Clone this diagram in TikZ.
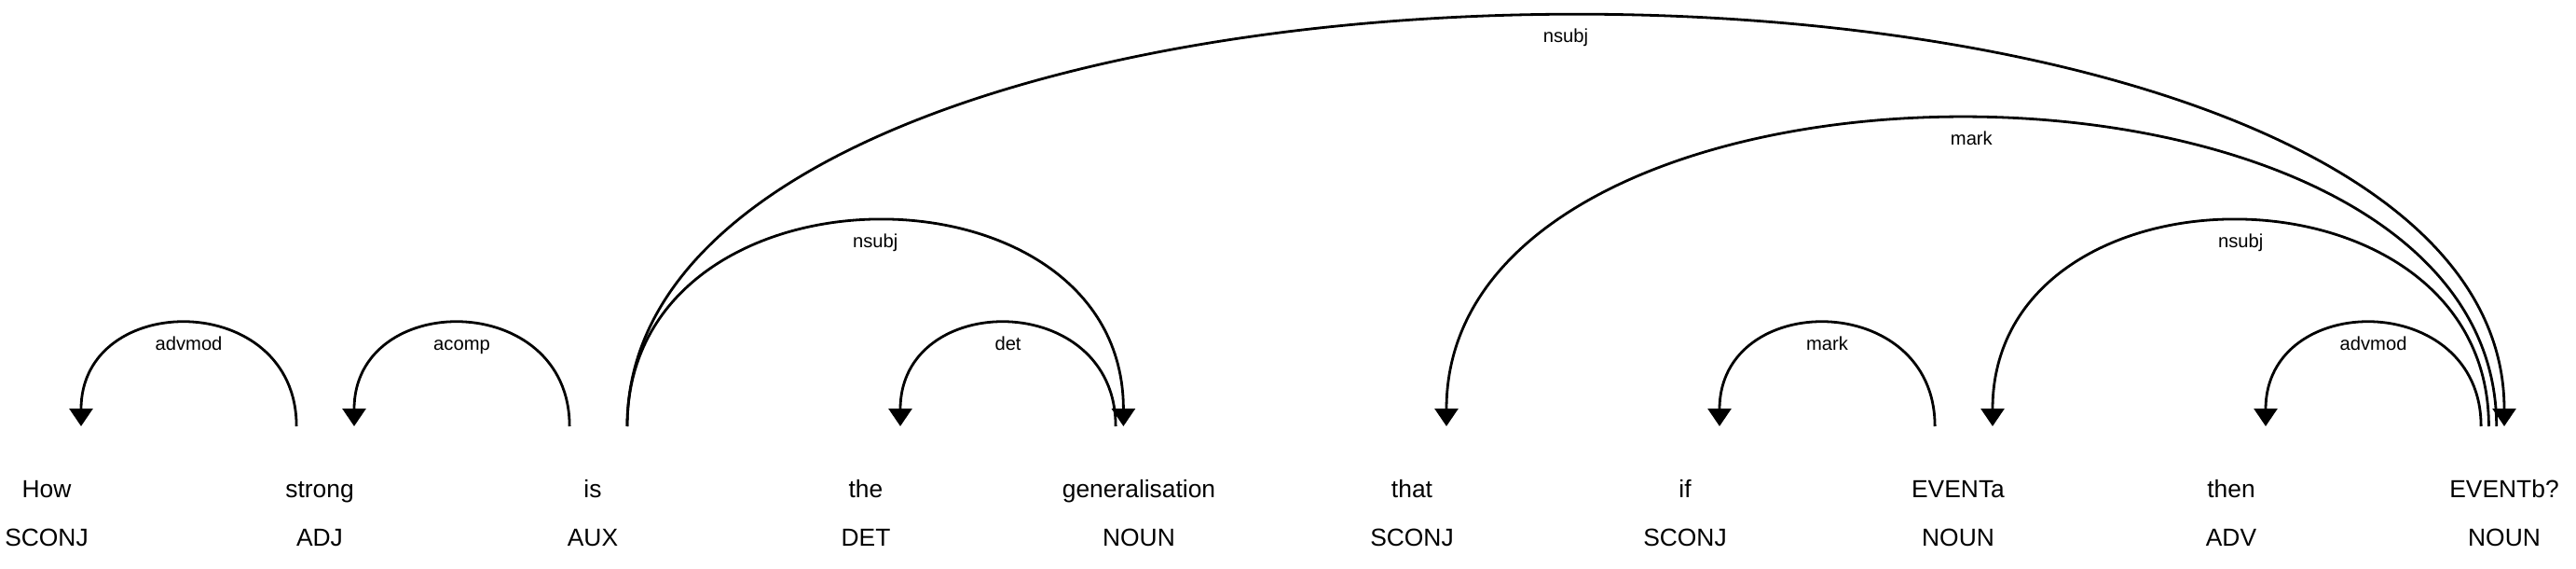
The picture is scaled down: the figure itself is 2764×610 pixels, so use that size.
\documentclass[tikz,border=0pt]{standalone}
\usepackage{fontspec}
\setmainfont{Liberation Sans}
\usetikzlibrary{calc,arrows.meta}

\begin{document}
\begin{tikzpicture}[
    x=0.5pt, y=-0.5pt,
    wordtxt/.style={anchor=base, inner sep=0pt, font=\fontsize{13.2}{15}\selectfont},
    tagtxt/.style={anchor=base, inner sep=0pt, font=\fontsize{13.2}{15}\selectfont},
    deplab/.style={anchor=base, inner sep=0pt, yshift=-14pt, font=\fontsize{10.1}{12}\selectfont},
    deparc/.style={line width=1.4pt},
    tipl/.style={{Triangle[width=12.5pt,length=9.5pt]}-},
    tipr/.style={-{Triangle[width=12.5pt,length=9.5pt]}}
]
\useasboundingbox (0,0) rectangle (2764,610);

% words, tags and the foot of each arc
\foreach \w/\t [count=\i from 0] in {How/SCONJ, strong/ADJ, is/AUX, the/DET,
    generalisation/NOUN, that/SCONJ, if/SCONJ, EVENTa/NOUN, then/ADV, EVENTb?/NOUN} {
    \node[wordtxt] (w\i) at ({50+293*\i}, 533) {\w};
    \node[tagtxt] (t\i) at ({50+293*\i}, 585) {\t};
    \coordinate (a\i) at ({50+293*\i}, 457);
}

% dependency arcs: left word / right word / level / label / arrow side
\foreach \l/\r/\lv/\lab/\tip in {0/1/1/advmod/tipl, 1/2/1/acomp/tipl,
    2/4/2/nsubj/tipr, 3/4/1/det/tipl, 2/9/4/nsubj/tipr, 5/9/3/mark/tipl,
    6/7/1/mark/tipl, 7/9/2/nsubj/tipl, 8/9/1/advmod/tipl} {
    \draw[deparc, \tip] ($(a\l)+(37,0)$) .. controls +(0,{-146.5*\lv}) and +(0,{-146.5*\lv})
        .. ($(a\r)+({-8.3*(4-\lv)},0)$) node[deplab, pos=0.5] {\lab};
}

\end{tikzpicture}
\end{document}
